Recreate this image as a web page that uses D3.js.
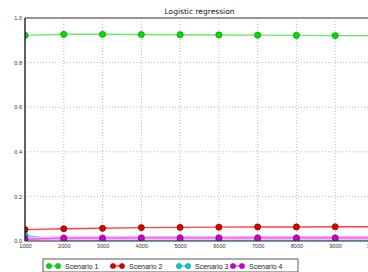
<!DOCTYPE html>
<html>
<head>
<meta charset="utf-8">
<script src="https://cdn.jsdelivr.net/npm/d3@7"></script>
<style>
body { margin: 0; background: #fff; }
svg { display: block; font-family: "DejaVu Sans", sans-serif; }
</style>
</head>
<body>
<svg id="chart"></svg>
<script>
//training sizes on the x axis
var sizes = [1000, 2000, 3000, 4000, 5000, 6000, 7000, 8000, 9000, 10000];
//series values
var scenario1 = [0.922, 0.927, 0.927, 0.926, 0.925, 0.924, 0.923, 0.922, 0.921, 0.920];
var scenario2 = [0.051, 0.055, 0.057, 0.060, 0.061, 0.062, 0.063, 0.063, 0.064, 0.064];
var scenario3 = [0.025, 0.004, 0.003, 0.003, 0.003, 0.003, 0.003, 0.003, 0.003, 0.003];
var scenario4 = [0.008, 0.013, 0.013, 0.014, 0.014, 0.014, 0.014, 0.014, 0.014, 0.014];
var names = ["Scenario 1", "Scenario 2", "Scenario 3", "Scenario 4"];
var yTicks = [0.0, 0.2, 0.4, 0.6, 0.8, 1.0];

//line colour, marker colour, marker edge
var lineColors = ["#66ee66", "#ff4040", "#44dddd", "#ee55ee"];
var markColors = ["#00dd00", "#dd0000", "#00cccc", "#cc00cc"];
var edgeColors = ["#008800", "#770000", "#007777", "#770077"];

var series = [scenario1, scenario2, scenario3, scenario4];

var canvasWidth = 368, canvasHeight = 272;
var margin = {top: 18, left: 25, bottom: 31};
var plotRight = 374;

var svg = d3.select("#chart").attr("width", canvasWidth).attr("height", canvasHeight);

var x = d3.scaleLinear().domain([1000, 10000]).range([margin.left, plotRight]);
var y = d3.scaleLinear().domain([0, 1]).range([canvasHeight - margin.bottom, margin.top]);

//grid
var grid = svg.append("g");
grid.selectAll(".gx").data(sizes).enter().append("line")
  .attr("x1", function(d) { return x(d); }).attr("x2", function(d) { return x(d); })
  .attr("y1", y(0)).attr("y2", y(1))
  .attr("stroke", "#aaa").attr("stroke-width", 0.8).attr("stroke-dasharray", "1,2");
grid.selectAll(".gy").data(yTicks).enter().append("line")
  .attr("x1", x(1000)).attr("x2", plotRight)
  .attr("y1", function(d) { return y(d); }).attr("y2", function(d) { return y(d); })
  .attr("stroke", "#aaa").attr("stroke-width", 0.8).attr("stroke-dasharray", "1,2");

//clip to plot area
svg.append("clipPath").attr("id", "clip").append("rect")
  .attr("x", x(1000)).attr("y", y(1)).attr("width", plotRight - x(1000)).attr("height", y(0) - y(1));

var plot = svg.append("g").attr("clip-path", "url(#clip)");
var line = d3.line().x(function(d, i) { return x(sizes[i]); }).y(function(d) { return y(d); });

series.forEach(function(s, k) {
  if (k == 3) {
    plot.append("path").attr("d", line(s)).attr("fill", "none")
      .attr("stroke", "#f8b8f8").attr("stroke-width", 4);
  }
  plot.append("path").attr("d", line(s)).attr("fill", "none")
    .attr("stroke", lineColors[k]).attr("stroke-width", 1.4);
});
series.forEach(function(s, k) {
  plot.selectAll(".m" + k).data(s).enter().append("circle")
    .attr("cx", function(d, i) { return x(sizes[i]); })
    .attr("cy", function(d) { return y(d); })
    .attr("r", 3.1)
    .attr("fill", markColors[k]).attr("stroke", edgeColors[k]).attr("stroke-width", 0.6);
});

//frame
svg.append("line").attr("x1", x(1000)).attr("x2", plotRight).attr("y1", y(1)).attr("y2", y(1))
  .attr("stroke", "#777").attr("stroke-width", 1.6);
svg.append("line").attr("x1", x(1000)).attr("x2", plotRight).attr("y1", y(0)).attr("y2", y(0))
  .attr("stroke", "#333").attr("stroke-width", 1);
svg.append("line").attr("x1", x(1000)).attr("x2", x(1000)).attr("y1", y(1)).attr("y2", y(0))
  .attr("stroke", "#111").attr("stroke-width", 1.3);

//axes
var xAxis = svg.append("g").attr("transform", "translate(0," + y(0) + ")")
  .call(d3.axisBottom(x).tickValues(sizes).tickFormat(d3.format("d")).tickSize(0).tickPadding(3));
var yAxis = svg.append("g").attr("transform", "translate(" + x(1000) + ",0)")
  .call(d3.axisLeft(y).tickValues(yTicks).tickFormat(d3.format(".1f")).tickSize(0).tickPadding(3));
[xAxis, yAxis].forEach(function(a) {
  a.select(".domain").remove();
  a.selectAll("text").attr("font-family", "Liberation Sans, sans-serif").attr("font-size", 5.6).attr("fill", "#333");
});

//title
svg.append("text").attr("x", (x(1000) + plotRight) / 2).attr("y", 14)
  .attr("text-anchor", "middle").attr("font-size", 7.5).attr("fill", "#111")
  .text("Logistic regression");

//legend
var legend = svg.append("g");
legend.append("rect").attr("x", 43).attr("y", 259).attr("width", 255).attr("height", 13)
  .attr("fill", "#fff").attr("stroke", "#333").attr("stroke-width", 0.8);
var legendX = [47, 111, 177, 231];
names.forEach(function(n, k) {
  var lx = legendX[k];
  legend.append("line").attr("x1", lx + 2).attr("x2", lx + 11).attr("y1", 266).attr("y2", 266)
    .attr("stroke", lineColors[k]).attr("stroke-width", 1.4);
  [lx + 2, lx + 11].forEach(function(cx) {
    legend.append("circle").attr("cx", cx).attr("cy", 266).attr("r", 2.6)
      .attr("fill", markColors[k]).attr("stroke", edgeColors[k]).attr("stroke-width", 0.5);
  });
  legend.append("text").attr("x", lx + 18).attr("y", 268.5)
    .attr("font-family", "Liberation Sans, sans-serif").attr("font-size", 7).attr("fill", "#222")
    .text(n);
});
</script>
</body>
</html>
